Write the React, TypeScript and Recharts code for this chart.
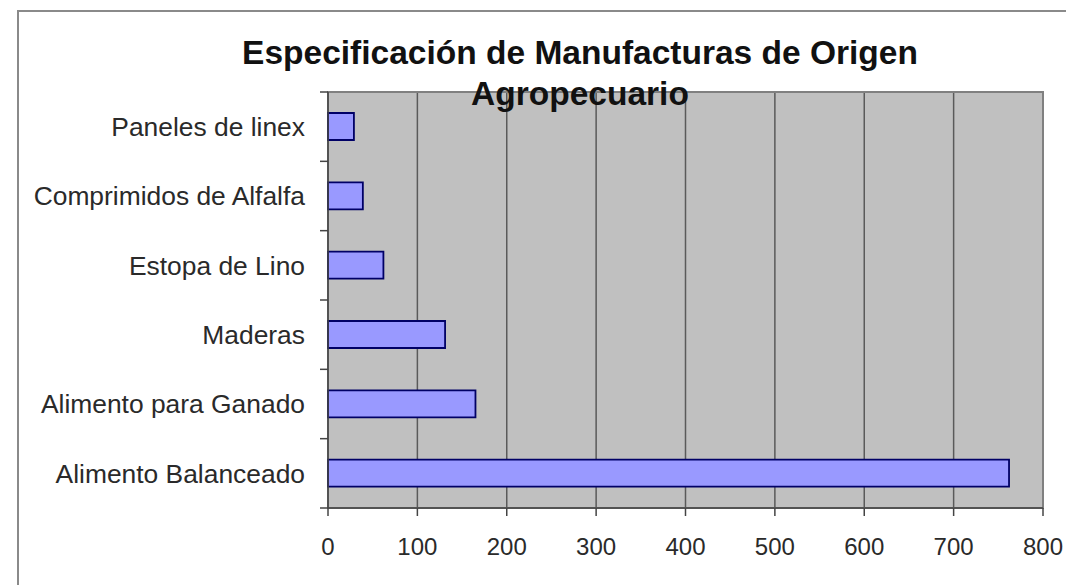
import React from "react";
import { BarChart, Bar, XAxis, YAxis, CartesianGrid, ReferenceArea } from "recharts";

const categories = [
  "Paneles de linex",
  "Comprimidos de Alfalfa",
  "Estopa de Lino ",
  "Maderas",
  "Alimento para Ganado",
  "Alimento Balanceado",
];
const values = [29, 39, 62, 131, 165, 762];
const xTicks = [0, 100, 200, 300, 400, 500, 600, 700, 800];
const titleLines = ["Especificación de Manufacturas de Origen", "Agropecuario"];

const data = categories.map((name, i) => ({ name, value: values[i] }));

const FONT = "'Liberation Sans', Arial, sans-serif";
const Y_TICK_SIZE = 8;
const Y_TICK_MARGIN = 15;

const CategoryTick = (props: any) => {
  const { x, y, payload, index } = props;
  const half = payload && payload.offset ? payload.offset : 0;
  const axisX = x + Y_TICK_MARGIN + Y_TICK_SIZE;
  const isLast = index === categories.length - 1;
  return (
    <g>
      <line x1={axisX - Y_TICK_SIZE} x2={axisX} y1={y - half} y2={y - half} stroke="#444" strokeWidth={1.5} />
      {isLast && (
        <line x1={axisX - Y_TICK_SIZE} x2={axisX} y1={y + half} y2={y + half} stroke="#444" strokeWidth={1.5} />
      )}
      <text
        x={x}
        y={y}
        dy="0.355em"
        textAnchor="end"
        fill="#2a2a2a"
        fontSize={26.4}
        fontFamily={FONT}
      >
        {payload.value}
      </text>
    </g>
  );
};

export default function App() {
  return (
    <div
      style={{
        position: "absolute",
        left: 0,
        top: 0,
        width: 1066,
        height: 585,
        overflow: "hidden",
        background: "#ffffff",
        fontFamily: FONT,
      }}
    >
      <div
        style={{
          position: "absolute",
          left: 17,
          top: 10,
          width: 1100,
          height: 700,
          border: "2px solid #8a8a8a",
        }}
      />
      <div style={{ position: "absolute", left: 0, top: 0 }}>
        <BarChart
          width={1066}
          height={585}
          data={data}
          layout="vertical"
          margin={{ top: 92, right: 23, bottom: 17, left: 0 }}
          barSize={27}
        >
          <CartesianGrid
            horizontal={false}
            stroke="#5a5a5a"
            strokeWidth={1.5}
            fill="#c0c0c0"
            fillOpacity={1}
          />
          <ReferenceArea x1={0} x2={800} fill="none" stroke="#808080" strokeWidth={2} />
          <XAxis
            type="number"
            domain={[0, 800]}
            ticks={xTicks}
            interval={0}
            height={60}
            tickSize={8}
            tickMargin={22}
            axisLine={{ stroke: "#444", strokeWidth: 1.5 }}
            tickLine={{ stroke: "#444", strokeWidth: 1.5 }}
            tick={{ fill: "#2a2a2a", fontSize: 24, fontFamily: FONT }}
          />
          <YAxis
            type="category"
            dataKey="name"
            width={328}
            tickSize={Y_TICK_SIZE}
            tickMargin={Y_TICK_MARGIN}
            tickLine={false}
            interval={0}
            axisLine={{ stroke: "#444", strokeWidth: 1.5 }}
            tick={<CategoryTick />}
          />
          <Bar
            dataKey="value"
            fill="#9999ff"
            stroke="#000066"
            strokeWidth={1.8}
            isAnimationActive={false}
          />
        </BarChart>
      </div>
      <div
        style={{
          position: "absolute",
          left: 0,
          width: 1160,
          top: 32,
          textAlign: "center",
          fontFamily: FONT,
          fontWeight: "bold",
          fontSize: 33.5,
          lineHeight: "41px",
          color: "#111",
        }}
      >
        {titleLines.map((t) => (
          <div key={t}>{t}</div>
        ))}
      </div>
    </div>
  );
}
